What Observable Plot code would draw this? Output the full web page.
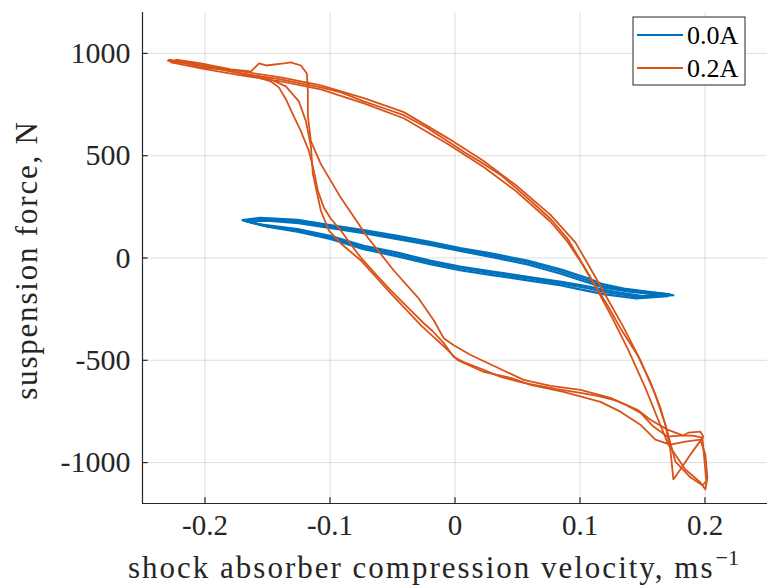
<!DOCTYPE html>
<html><head><meta charset="utf-8">
<script src="https://cdn.jsdelivr.net/npm/d3@7"></script>
<script src="https://cdn.jsdelivr.net/npm/@observablehq/plot@0.6"></script>
<style>body{margin:0;background:#fff} svg text{font-family:"Liberation Serif","Times New Roman",serif !important;}</style>
</head><body><div id="chart"></div>
<script>
const seriesNames = ["0.0A", "0.2A"];
const seriesColors = ["#0072BD", "#D95319"];
const seriesWidths = [2.2, 1.8];
const xTicks = [-0.2, -0.1, 0, 0.1, 0.2];
const xTickLabels = ["-0.2", "-0.1", "0", "0.1", "0.2"];
const yTicks = [-1000, -500, 0, 500, 1000];
const yTickLabels = ["-1000", "-500", "0", "500", "1000"];
const xLabel = "shock absorber compression velocity, ms";
const xLabelSup = "\u22121";
const yLabel = "suspension force, N";

// 0.0A : velocity (m/s), force (N), three recorded cycles
const blueCycle1 = [[-0.1686,182],[-0.1527,192],[-0.1256,178],[-0.0993,153],[-0.0729,129],[-0.0458,100],[-0.0194,71],[0.0045,41],[0.0308,12],[0.0581,-22],[0.0844,-66],[0.1060,-109],[0.1188,-139],[0.1380,-158],[0.1643,-173],[0.1747,-182],[0.1483,-192],[0.1220,-168],[0.1060,-148],[0.0844,-124],[0.0581,-100],[0.0308,-75],[0.0045,-51],[-0.0194,-22],[-0.0458,17],[-0.0729,51],[-0.0993,100],[-0.1256,134],[-0.1527,158],[-0.1686,182]];
const blueCycle2 = [[-0.1660,178],[-0.1500,183],[-0.1250,170],[-0.0990,146],[-0.0730,121],[-0.0460,92],[-0.0190,63],[0.0050,33],[0.0310,3],[0.0580,-32],[0.0840,-76],[0.1050,-117],[0.1200,-146],[0.1400,-165],[0.1600,-178],[0.1700,-187],[0.1450,-197],[0.1200,-178],[0.1040,-158],[0.0840,-133],[0.0580,-109],[0.0310,-85],[0.0050,-61],[-0.0190,-31],[-0.0460,8],[-0.0730,43],[-0.0990,92],[-0.1250,128],[-0.1500,153],[-0.1660,178]];
const blueCycle3 = [[-0.1700,185],[-0.1560,196],[-0.1260,186],[-0.1000,161],[-0.0730,137],[-0.0460,108],[-0.0200,79],[0.0040,49],[0.0300,21],[0.0580,-13],[0.0850,-57],[0.1070,-100],[0.1180,-128],[0.1350,-150],[0.1550,-165],[0.1720,-178],[0.1500,-186],[0.1230,-160],[0.1070,-140],[0.0850,-116],[0.0580,-92],[0.0300,-66],[0.0040,-42],[-0.0200,-13],[-0.0460,26],[-0.0730,60],[-0.1000,108],[-0.1260,141],[-0.1560,164],[-0.1700,185]];

// 0.2A : velocity (m/s), force (N), three recorded cycles
const orangeCycle1 = [[-0.2297,965],[-0.2151,951],[-0.2032,931],[-0.1872,922],[-0.1712,902],[-0.1552,888],[-0.1392,873],[-0.1233,854],[-0.1073,834],[-0.0913,810],[-0.0729,766],[-0.0569,732],[-0.0410,698],[-0.0234,640],[-0.0058,571],[0.0085,513],[0.0229,460],[0.0365,406],[0.0485,343],[0.0604,280],[0.0764,192],[0.0900,95],[0.1004,-12],[0.1108,-119],[0.1220,-231],[0.1323,-343],[0.1459,-474],[0.1563,-606],[0.1643,-732],[0.1699,-849],[0.1763,-995],[0.1883,-1072],[0.1979,-1111],[0.2011,-1092],[0.1995,-985],[0.1979,-878],[0.1899,-868],[0.1803,-868],[0.1699,-873],[0.1587,-824],[0.1483,-756],[0.1363,-717],[0.1267,-693],[0.1140,-674],[0.1004,-659],[0.0804,-640],[0.0549,-610],[0.0365,-581],[0.0229,-547],[0.0085,-513],[-0.0010,-484],[-0.0090,-416],[-0.0178,-358],[-0.0250,-319],[-0.0378,-241],[-0.0514,-158],[-0.0633,-80],[-0.0753,2],[-0.0833,66],[-0.0913,134],[-0.0993,192],[-0.1049,246],[-0.1097,328],[-0.1129,426],[-0.1169,523],[-0.1233,620],[-0.1297,702],[-0.1353,776],[-0.1409,834],[-0.1473,863],[-0.1632,893],[-0.1792,912],[-0.1952,931],[-0.2112,951],[-0.2272,961]];
const orangeCycle2 = [[-0.2287,970],[-0.2032,941],[-0.1712,912],[-0.1392,883],[-0.1073,844],[-0.0729,781],[-0.0410,713],[-0.0058,586],[0.0229,474],[0.0485,357],[0.0764,211],[0.0964,75],[0.1084,-51],[0.1204,-182],[0.1339,-328],[0.1483,-499],[0.1603,-669],[0.1683,-815],[0.1723,-936],[0.1747,-1082],[0.1803,-1034],[0.1883,-961],[0.1987,-873],[0.1963,-849],[0.1867,-854],[0.1827,-868],[0.1699,-839],[0.1563,-791],[0.1459,-742],[0.1244,-684],[0.1004,-645],[0.0764,-625],[0.0549,-596],[0.0261,-513],[0.0125,-474],[-0.0010,-426],[-0.0090,-392],[-0.0170,-304],[-0.0298,-192],[-0.0490,-61],[-0.0698,100],[-0.0913,294],[-0.1073,459],[-0.1153,571],[-0.1177,693],[-0.1177,815],[-0.1185,902],[-0.1233,941],[-0.1313,956],[-0.1369,951],[-0.1512,941],[-0.1568,951],[-0.1632,912],[-0.1792,922],[-0.2032,951],[-0.2231,970]];
const orangeCycle3 = [[-0.2272,956],[-0.2032,927],[-0.1712,893],[-0.1392,863],[-0.1073,824],[-0.0729,756],[-0.0410,683],[-0.0058,557],[0.0229,445],[0.0485,328],[0.0764,177],[0.0900,80],[0.1020,-32],[0.1140,-158],[0.1259,-294],[0.1387,-450],[0.1523,-635],[0.1619,-781],[0.1707,-912],[0.1843,-1034],[0.1963,-1097],[0.2003,-1131],[0.2019,-1073],[0.2003,-961],[0.1963,-888],[0.1843,-898],[0.1723,-912],[0.1603,-888],[0.1483,-815],[0.1323,-751],[0.1164,-703],[0.0869,-654],[0.0605,-620],[0.0445,-586],[0.0229,-557],[0.0022,-499],[-0.0074,-440],[-0.0170,-387],[-0.0274,-328],[-0.0514,-173],[-0.0753,-12],[-0.0913,71],[-0.1009,134],[-0.1073,231],[-0.1137,411],[-0.1153,547],[-0.1193,669],[-0.1249,766],[-0.1353,839],[-0.1473,873],[-0.1712,902],[-0.2032,941],[-0.2287,965]];

const cycles = [
  {series: 0, pts: blueCycle1}, {series: 0, pts: blueCycle2}, {series: 0, pts: blueCycle3},
  {series: 1, pts: orangeCycle1}, {series: 1, pts: orangeCycle2}, {series: 1, pts: orangeCycle3}
];
const rows = [];
cycles.forEach((c, ci) => c.pts.forEach(([x, y]) => rows.push({x, y, cycle: ci, s: c.series, series: seriesNames[c.series]})));

const FONT = "'Liberation Serif', 'Times New Roman', serif";
const axisColor = "#262626";

const plot = Plot.plot({
  width: 778, height: 587,
  marginLeft: 142, marginRight: 11, marginTop: 12, marginBottom: 84,
  style: {fontFamily: FONT, background: "white", overflow: "visible"},
  x: {domain: [-0.25, 0.25]},
  y: {domain: [-1200, 1200]},
  color: {domain: seriesNames, range: seriesColors},
  marks: [
    Plot.gridX(xTicks, {stroke: "#000", strokeOpacity: 0.13}),
    Plot.gridY(yTicks, {stroke: "#000", strokeOpacity: 0.13}),
    ...seriesNames.map((n, si) =>
      Plot.line(rows.filter(r => r.s === si), {x: "x", y: "y", z: "cycle", stroke: "series", strokeWidth: seriesWidths[si], strokeLinejoin: "round"})),
    Plot.ruleY([-1200], {stroke: axisColor, strokeWidth: 1.2}),
    Plot.ruleX([-0.25], {stroke: axisColor, strokeWidth: 1.2}),
    Plot.ruleX(xTicks, {x: d => d, y1: -1200, y2: -1200 + 28, stroke: axisColor, strokeWidth: 1.2}),
    Plot.ruleY(yTicks, {y: d => d, x1: -0.25, x2: -0.25 + 0.0045, stroke: axisColor, strokeWidth: 1.2}),
    Plot.axisX(xTicks, {tickSize: 0, tickPadding: 11, fontSize: 29, fontFamily: FONT, fill: axisColor, label: null,
      tickFormat: d => xTickLabels[xTicks.indexOf(d)]}),
    Plot.axisY(yTicks, {tickSize: 0, tickPadding: 12, fontSize: 30, fontFamily: FONT, fill: axisColor, label: null,
      tickFormat: d => yTickLabels[yTicks.indexOf(d)]})
  ]
});
document.getElementById("chart").appendChild(plot);

const svg = d3.select(plot);
// axis titles
const xt = svg.append("text").attr("x", 128).attr("y", 578)
  .attr("text-anchor", "start").attr("font-family", FONT).attr("font-size", 31)
  .attr("letter-spacing", 2.0).attr("fill", axisColor);
xt.append("tspan").text(xLabel);
xt.append("tspan").attr("dx", 1).attr("dy", -13).attr("font-size", 22).attr("letter-spacing", 0).text(xLabelSup);
svg.append("text").attr("transform", "translate(37,260) rotate(-90)")
  .attr("text-anchor", "middle").attr("font-family", FONT).attr("font-size", 31)
  .attr("letter-spacing", 1.8).attr("fill", axisColor)
  .text(yLabel);
// legend
const lg = svg.append("g");
lg.append("rect").attr("x", 633).attr("y", 17).attr("width", 112).attr("height", 68)
  .attr("fill", "white").attr("stroke", axisColor).attr("stroke-width", 1);
seriesNames.forEach((n, i) => {
  const yy = 35 + i * 33;
  lg.append("line").attr("x1", 637).attr("x2", 683).attr("y1", yy).attr("y2", yy)
    .attr("stroke", seriesColors[i]).attr("stroke-width", 2);
  lg.append("text").attr("x", 687).attr("y", yy).attr("dy", "0.35em").attr("text-anchor", "start")
    .attr("font-family", FONT).attr("font-size", 26).attr("fill", "#000").text(n);
});
</script>
</body></html>
